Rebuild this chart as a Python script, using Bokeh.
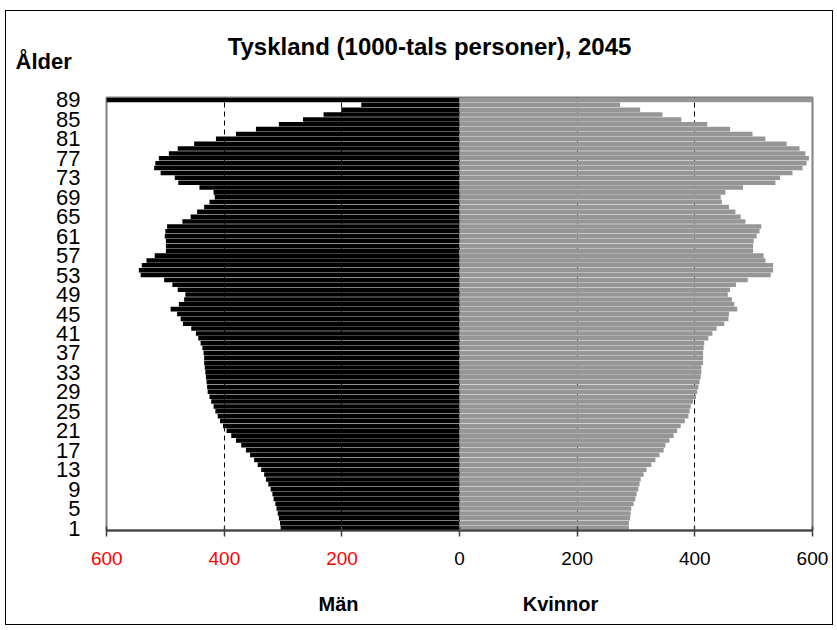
from bokeh.plotting import figure
from bokeh.models import Range1d, FixedTicker, Label, Span
from bokeh.embed import file_html
from bokeh.resources import INLINE
from bokeh.core.properties import value

# ---- data ----
ages = list(range(1, 90))
men = [304, 305, 307, 309, 311, 313, 316, 318, 321, 325,
       329, 332, 337, 343, 349, 356, 363, 371, 380, 388,
       396, 402, 407, 411, 415, 418, 422, 425, 428, 429,
       430, 431, 432, 433, 434, 434, 435, 437, 440, 444,
       448, 456, 470, 474, 480, 491, 477, 468, 466, 479,
       488, 502, 542, 545, 540, 532, 518, 499, 499, 499,
       501, 500, 497, 471, 457, 446, 434, 425, 416, 418,
       442, 478, 484, 508, 519, 517, 511, 494, 479, 451,
       414, 380, 346, 307, 266, 231, 201, 167, 608]
women = [288, 288, 290, 291, 292, 296, 299, 301, 304, 306,
         308, 313, 318, 326, 333, 340, 347, 350, 357, 364,
         370, 376, 383, 389, 391, 393, 397, 402, 404, 406,
         408, 410, 411, 411, 414, 414, 414, 415, 416, 423,
         430, 437, 450, 457, 458, 472, 467, 463, 456, 460,
         470, 490, 529, 533, 533, 520, 517, 499, 499, 500,
         505, 510, 513, 486, 478, 469, 458, 446, 444, 452,
         482, 537, 545, 566, 583, 590, 594, 588, 578, 556,
         520, 498, 460, 421, 377, 345, 307, 273, 605]
x_ticks = [-600, -400, -200, 0, 200, 400, 600]
x_tick_labels = ["600", "400", "200", "0", "200", "400", "600"]
x_tick_colors = ["#FF0000", "#FF0000", "#FF0000", "#000000", "#000000", "#000000", "#000000"]
y_ticks = list(range(1, 90, 4))

title_text = "Tyskland (1000-tals personer), 2045"
y_title = "Ålder"
men_label = "Män"
women_label = "Kvinnor"

FONT = "Liberation Sans"
W = 828                      # outer width incl. 1px borders (border-box)
CW = W - 2                   # canvas width
H_TOP, H_MAIN, H_BOT = 70, 459, 84
ML, MR = 100, 22             # frame margins of the main plot
XMIN, XMAX = -600, 600
BORDER = "1px solid black"


def strip(height, x_range, y_range):
    f = figure(width=W, height=height, output_backend="svg", toolbar_location=None,
               x_range=x_range, y_range=y_range, x_axis_type=None, y_axis_type=None,
               min_border_left=0, min_border_right=0, min_border_top=0,
               min_border_bottom=0)
    f.grid.visible = False
    f.outline_line_color = None
    return f


def bold_label(x, y, text, size, align="center"):
    return Label(x=x, y=y, x_units="screen", y_units="screen", text=text,
                 text_font=FONT, text_font_style="bold", text_font_size=size,
                 text_color="#000000", text_align=align, text_baseline="middle")


# ---------- top strip: title and y-axis title ----------
top = strip(H_TOP + 1, Range1d(0, CW), Range1d(0, H_TOP))
top.styles = {"box-sizing": "border-box", "border-top": BORDER, "border-left": BORDER,
              "border-right": BORDER, "margin-left": "5px", "margin-top": "10px"}
top.add_layout(bold_label(423, 36, title_text, "24px"))
top.add_layout(bold_label(9, 21, y_title, "22px", "left"))

# ---------- main pyramid ----------
p = figure(width=W, height=H_MAIN, output_backend="svg", toolbar_location=None,
           x_range=Range1d(XMIN, XMAX), y_range=Range1d(0.5, 89.5),
           min_border_left=ML, min_border_right=MR, min_border_top=16,
           min_border_bottom=10)
p.styles = {"box-sizing": "border-box", "border-left": BORDER,
            "border-right": BORDER, "margin-left": "5px"}

p.xgrid.ticker = FixedTicker(ticks=x_ticks)
p.xgrid.grid_line_color = "#000000"
p.xgrid.grid_line_dash = "5 4"
p.xgrid.grid_line_width = 1
p.ygrid.visible = False
p.outline_line_color = "#808080"
p.outline_line_width = 2

p.hbar(y=ages, left=[-v for v in men], right=0, height=0.93,
       fill_color="#000000", line_color=None)
p.hbar(y=ages, left=0, right=women, height=0.93,
       fill_color="#969696", line_color=None)

p.add_layout(Span(location=0, dimension="height", line_color="#808080",
                  line_width=1, line_dash="2 2"))

xa = p.xaxis[0]
xa.ticker = FixedTicker(ticks=x_ticks)
xa.axis_line_color = "#404040"
xa.axis_line_width = 2
xa.major_tick_line_color = "#404040"
xa.major_tick_line_width = 1.5
xa.major_tick_in = 4
xa.major_tick_out = 6
xa.minor_tick_line_color = None
xa.major_label_standoff = 0
xa.major_label_overrides = {t: "" for t in x_ticks}

ya = p.yaxis[0]
ya.ticker = FixedTicker(ticks=y_ticks)
ya.axis_line_color = None
ya.major_tick_line_color = None
ya.minor_tick_line_color = None
ya.major_label_standoff = 20
ya.major_label_text_font = FONT
ya.major_label_text_font_size = "22px"
ya.major_label_text_color = "#000000"

# ---------- bottom strip: coloured tick labels and side names ----------
k = (XMAX - XMIN) / (CW - ML - MR)          # data units per pixel of the main frame
bot = strip(H_BOT + 1, Range1d(XMIN - ML * k, XMAX + MR * k), Range1d(0, H_BOT))
bot.styles = {"box-sizing": "border-box", "border-bottom": BORDER, "border-left": BORDER,
              "border-right": BORDER, "margin-left": "5px"}
bot.text(x=x_ticks, y=[66] * len(x_ticks), text=x_tick_labels,
         text_color=x_tick_colors, text_font=value(FONT), text_font_size="19px",
         text_align="center", text_baseline="middle")
bot.add_layout(bold_label(332, 22, men_label, "20px"))
bot.add_layout(bold_label(554, 22, women_label, "20px"))

open("out.html", "w").write(file_html([top, p, bot], INLINE))
